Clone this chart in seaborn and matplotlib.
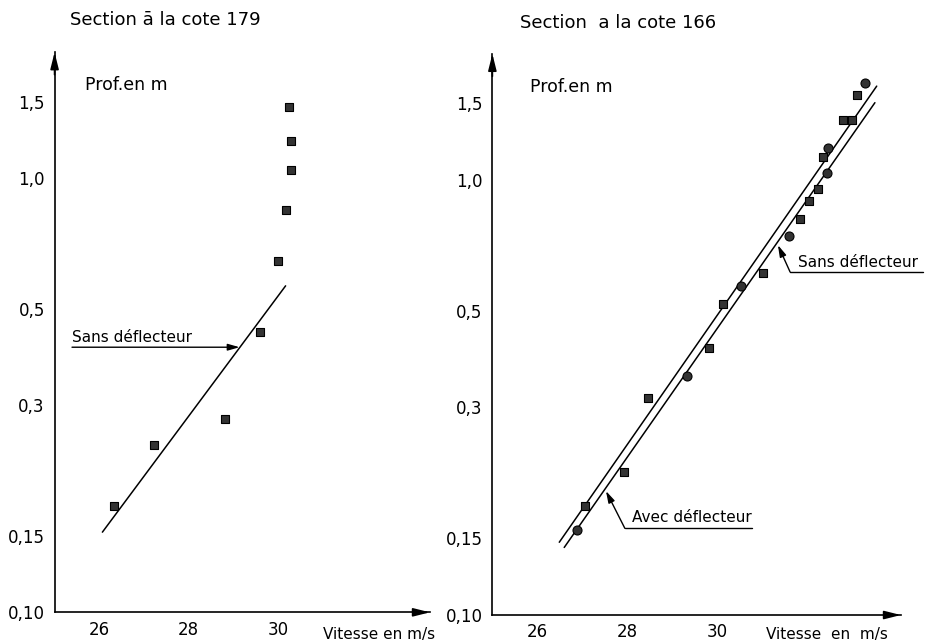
import numpy as np
import pandas as pd
import seaborn as sns
import matplotlib.pyplot as plt

sns.set_style('white')
plt.rcParams['font.family'] = ['DejaVu Sans']
plt.rcParams['text.color'] = 'black'
plt.rcParams['xtick.color'] = 'black'
plt.rcParams['ytick.color'] = 'black'

# --- left panel : section a la cote 179 (squares)
v179 = [26.33, 27.23, 28.82, 29.59, 30.00, 30.17, 30.30, 30.28, 30.25]
p179 = [0.176, 0.243, 0.279, 0.442, 0.646, 0.845, 1.045, 1.22, 1.46]
line179_v = [26.07, 30.17]
line179_p = [0.153, 0.565]

# --- right panel : section a la cote 166
v166_sq = [27.06, 27.94, 28.46, 29.83, 30.14, 31.03, 31.85, 32.05, 32.26, 32.36, 32.82, 33.02, 33.13]
p166_sq = [0.178, 0.213, 0.315, 0.410, 0.518, 0.612, 0.812, 0.896, 0.952, 1.131, 1.374, 1.374, 1.568]
v166_ci = [26.88, 29.33, 30.54, 31.61, 32.45, 32.47, 33.30]
p166_ci = [0.157, 0.355, 0.572, 0.743, 1.036, 1.183, 1.674]
line_avec_v = [26.49, 33.56]
line_avec_p = [0.147, 1.644]
line_sans_v = [26.60, 33.52]
line_sans_p = [0.143, 1.506]

yticks = [0.10, 0.15, 0.3, 0.5, 1.0, 1.5]
ylabels = ['0,10', '0,15', '0,3', '0,5', '1,0', '1,5']

fig = plt.figure(figsize=(9.25, 6.43), dpi=100)
ax1 = fig.add_axes([0.059, 0.0477, 0.4058, 0.871])
ax2 = fig.add_axes([0.5323, 0.0435, 0.4417, 0.8727])

mk = dict(color='#333333', edgecolor='black', linewidth=0.8, legend=False, zorder=3)


def style_axes(ax, xmax, xticks):
    ax.set_yscale('log')
    ax.set_ylim(0.1, 1.95)
    ax.set_xlim(25, xmax)
    ax.set_yticks(yticks)
    ax.set_yticklabels(ylabels)
    ax.yaxis.set_minor_locator(plt.NullLocator())
    ax.set_xticks(xticks)
    ax.set_xticklabels([str(t) if t < 32 else '' for t in xticks])
    ax.tick_params(direction='inout', length=8, width=1, labelsize=12, pad=3, color='black',
                   labelcolor='black')
    ax.tick_params(axis='x', pad=2)
    for s in ['top', 'right']:
        ax.spines[s].set_visible(False)
    for s in ['left', 'bottom']:
        ax.spines[s].set_color('black')
        ax.spines[s].set_linewidth(1.2)
    ax.set_xlabel('')
    ax.set_ylabel('')
    # axis arrows
    ax.annotate('', xy=(1.0, 0), xytext=(0.96, 0), xycoords='axes fraction',
                arrowprops=dict(arrowstyle='-|>,head_length=1.0,head_width=0.25',
                                color='black', lw=1.2, shrinkA=0, shrinkB=0), annotation_clip=False)
    ax.annotate('', xy=(0, 1.0), xytext=(0, 0.96), xycoords='axes fraction',
                arrowprops=dict(arrowstyle='-|>,head_length=1.0,head_width=0.25',
                                color='black', lw=1.2, shrinkA=0, shrinkB=0), annotation_clip=False)


# left
sns.lineplot(x=line179_v, y=line179_p, ax=ax1, color='black', lw=1.1)
sns.scatterplot(x=v179, y=p179, ax=ax1, marker='s', s=32, **mk)
style_axes(ax1, 33.4, [26, 28, 30])
ax1.text(25.39, 0.4196, 'Sans déflecteur', fontsize=11)
ax1.annotate('', xy=(29.14, 0.408), xytext=(25.39, 0.408),
             arrowprops=dict(arrowstyle='-|>,head_length=0.7,head_width=0.2',
                             color='black', lw=1.0, shrinkA=0, shrinkB=0))

# right
sns.lineplot(x=line_avec_v, y=line_avec_p, ax=ax2, color='black', lw=1.1)
sns.lineplot(x=line_sans_v, y=line_sans_p, ax=ax2, color='black', lw=1.1)
sns.scatterplot(x=v166_sq, y=p166_sq, ax=ax2, marker='s', s=32, **mk)
sns.scatterplot(x=v166_ci, y=p166_ci, ax=ax2, marker='o', s=42, **mk)
style_axes(ax2, 34.1, [26, 28, 30, 32])

ax2.text(31.80, 0.631, 'Sans déflecteur', fontsize=11)
ax2.plot([34.59, 31.63], [0.615, 0.615], color='black', lw=1.0, clip_on=False)
ax2.annotate('', xy=(31.36, 0.7088), xytext=(31.63, 0.615),
             arrowprops=dict(arrowstyle='-|>,head_length=0.7,head_width=0.2',
                             color='black', lw=1.0, shrinkA=0, shrinkB=0))

ax2.text(28.10, 0.1636, 'Avec déflecteur', fontsize=11)
ax2.plot([30.775, 27.95], [0.1583, 0.1583], color='black', lw=1.0)
ax2.annotate('', xy=(27.53, 0.1928), xytext=(27.95, 0.1583),
             arrowprops=dict(arrowstyle='-|>,head_length=0.7,head_width=0.2',
                             color='black', lw=1.0, shrinkA=0, shrinkB=0))

# titles and axis captions
fig.text(0.0757, 0.961, 'Section ā la cote 179', fontsize=13)
fig.text(0.562, 0.956, 'Section  a la cote 166', fontsize=13)
fig.text(0.0919, 0.860, 'Prof.en m', fontsize=12.5)
fig.text(0.573, 0.857, 'Prof.en m', fontsize=12.5)
fig.text(0.349, 0.006, 'Vitesse en m/s', fontsize=11)
fig.text(0.828, 0.006, 'Vitesse  en  m/s', fontsize=11)

fig.savefig('out.png', dpi=100)
